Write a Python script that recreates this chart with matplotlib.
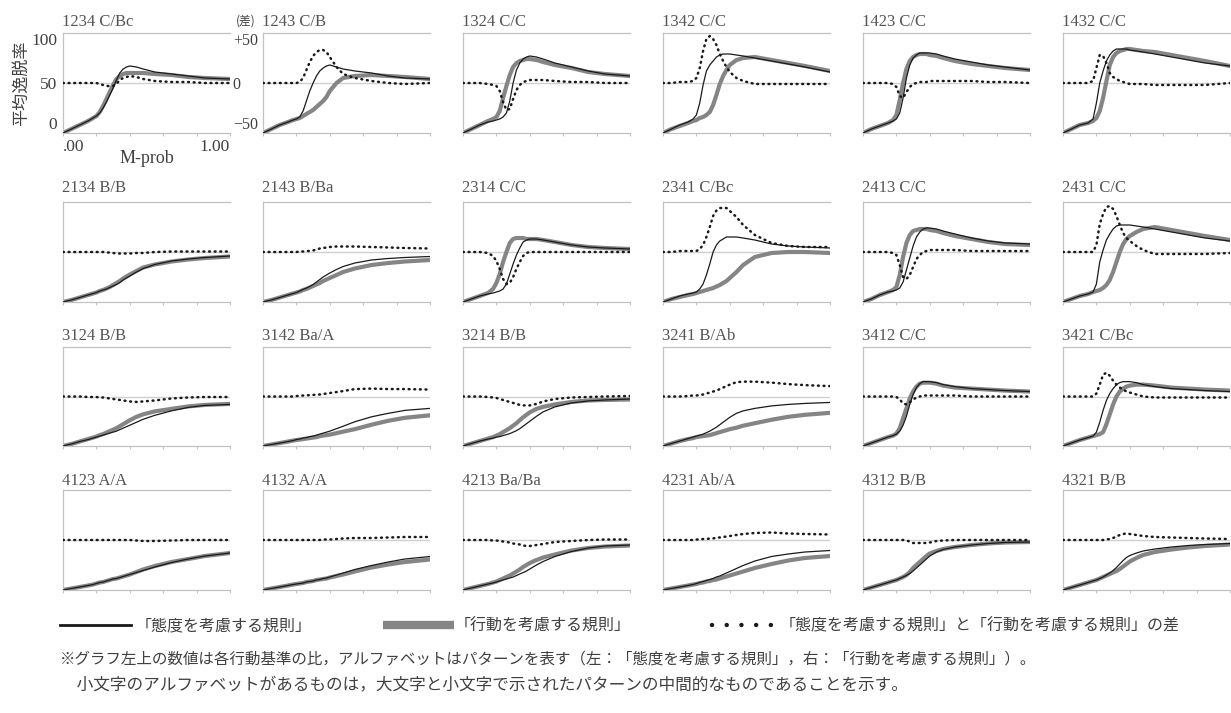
import matplotlib
matplotlib.use("Agg")
import matplotlib.pyplot as plt
from matplotlib.lines import Line2D
import numpy as np

# ---------------- data ----------------
X = [0, .05, .10, .15, .18, .20, .22, .24, .26, .28, .30, .32, .34, .36, .38, .40,
     .44, .48, .55, .65, .75, .85, 1.0]

titles = ["1234 C/Bc", "1243 C/B", "1324 C/C", "1342 C/C", "1423 C/C", "1432 C/C",
          "2134 B/B", "2143 B/Ba", "2314 C/C", "2341 C/Bc", "2413 C/C", "2431 C/C",
          "3124 B/B", "3142 Ba/A", "3214 B/B", "3241 B/Ab", "3412 C/C", "3421 C/Bc",
          "4123 A/A", "4132 A/A", "4213 Ba/Ba", "4231 Ab/A", "4312 B/B", "4321 B/B"]

# 「態度を考慮する規則」 (attitude rule, thin black)
A1234 = [0, 4, 8, 12, 15, 17, 20, 25, 31, 38, 45, 53, 60, 64, 66, 67, 66, 64, 61, 59, 57, 55, 54]
A1243 = [0, 4, 8, 11, 13, 14, 16, 22, 32, 42, 50, 57, 62, 65, 67, 68, 66, 64, 62, 60, 57, 55, 54]
A1324 = [0, 4, 8, 11, 12, 13, 14, 16, 20, 32, 50, 63, 70, 74, 76, 77, 76, 74, 70, 66, 62, 59, 57]
A1342 = [0, 4, 8, 11, 14, 18, 30, 48, 62, 68, 72, 76, 78, 79, 79, 79, 78, 77, 75, 72, 69, 66, 61]
A1423 = [0, 4, 7, 10, 12, 14, 20, 35, 55, 68, 75, 78, 80, 80, 80, 80, 79, 77, 74, 71, 68, 66, 63]
A1432 = [0, 4, 8, 10, 14, 30, 50, 62, 72, 78, 82, 84, 84, 84, 84, 83, 82, 81, 79, 76, 73, 70, 67]
A2134 = [0, 2, 4.5, 7, 8.5, 9.5, 11, 12, 13, 14.5, 16, 17.5, 19.5, 22, 24, 26, 30, 33.5, 37.5, 41, 43, 44.5, 46]
A2143 = [0, 2, 4.5, 7, 8.5, 9.5, 11, 12.5, 14, 15.5, 17.5, 20, 22.5, 25, 27, 29, 32.5, 35.5, 39, 42, 43.5, 44.5, 45.5]
A2314 = [0, 3, 6, 8, 9, 10, 11, 13, 18, 28, 38, 47, 54, 60, 62, 63, 63, 62, 60, 57, 55, 54, 53]
A2341 = [0, 3, 6, 8, 9, 10, 13, 18, 27, 38, 50, 57, 61, 63, 65, 65, 65, 64, 62, 58, 56, 55, 54]
A2413 = [0, 3, 7, 10, 11, 12, 14, 20, 32, 44, 56, 65, 70, 73, 74, 74, 73, 71, 68, 64, 61, 59, 58]
A2431 = [0, 3, 6, 8, 10, 18, 40, 52, 62, 68, 73, 76, 77, 77, 77, 77, 76, 75, 73, 70, 67, 64, 61]
A3124 = [0, 2, 4.5, 6.5, 8, 9, 10, 11, 12, 13, 14, 15, 16.5, 18, 19.5, 21, 24, 27, 31, 35.5, 39, 41, 42]
A3142 = [0, 1.5, 3, 4.5, 5.5, 6.5, 7, 8, 8.5, 9.5, 10, 11, 12, 13, 14, 15, 17.5, 20, 24.5, 29.5, 33, 36, 38]
A3214 = [0, 2.5, 5, 7, 8, 9, 9.5, 10.5, 11.5, 12.5, 14, 15.5, 17.5, 20, 22.5, 25, 30, 34.5, 39.5, 43.5, 45.5, 46.5, 47.5]
A3241 = [0, 2.5, 5, 7.5, 9, 10, 11, 12, 13.5, 15, 17, 19, 21.5, 24, 26.5, 29, 33, 35.5, 38, 40.5, 42, 43, 44]
A3412 = [0, 3, 6, 9, 10.5, 12, 15, 21, 30, 42, 52, 59, 63, 65, 65, 65, 64, 62, 60, 58, 57, 56, 55]
A3421 = [0, 3, 6, 8.5, 10, 14, 24, 36, 46, 53, 58, 62, 64, 65, 65, 65, 64, 62, 60, 58, 57, 56, 55]
A4123 = [0, 1.5, 3, 4.5, 5.5, 6.5, 7.5, 8, 9, 10, 11, 11.5, 12.5, 13.5, 14.5, 15.5, 17.5, 19.5, 23, 27.5, 31, 34, 37]
A4132 = [0, 1.5, 3, 4.5, 5.5, 6, 6.5, 7, 8, 8.5, 9, 10, 10.5, 11.5, 12, 13, 15, 17, 20.5, 24.5, 28, 31, 33.5]
A4213 = [0, 2, 4, 6, 7, 8, 9, 10, 11, 12, 13, 14.5, 16, 17.5, 19, 21, 25, 28.5, 33.5, 38.5, 42, 44, 45]
A4231 = [0, 1.5, 3, 4.5, 5.5, 6.5, 7.5, 8.5, 9.5, 10.5, 11.5, 13, 14, 15.5, 17, 18.5, 21.5, 24.5, 29, 33.5, 36, 38, 39.5]
A4312 = [0, 2.5, 5, 7.5, 9, 10, 11.5, 13, 14.5, 16.5, 19, 22, 25, 28, 31, 34, 38, 40.5, 43, 45, 46.5, 47.5, 48]
A4321 = [0, 2.5, 5, 7.5, 9, 10, 11.5, 13, 15, 17, 19.5, 22.5, 26, 29.5, 32.5, 34.5, 37, 39, 41, 43, 44.5, 45.5, 46.5]

# 「行動を考慮する規則」 (behaviour rule, thick gray)
B1234 = [0, 4, 8, 12, 15, 17, 21, 27, 34, 41, 48, 54, 57, 59, 60, 60, 60, 60, 59, 58, 56, 55, 54]
B1243 = [0, 4, 8, 11, 13, 14, 15, 17, 19, 21, 23, 26, 29, 32, 36, 42, 50, 55, 57, 58, 57, 56, 54]
B1324 = [0, 4, 8, 12, 14, 16, 22, 35, 47, 58, 66, 70, 72, 73, 74, 74, 73, 71, 68, 65, 61, 59, 57]
B1342 = [0, 4, 7, 10, 12, 13, 15, 16, 18, 21, 28, 38, 49, 57, 63, 68, 73, 75, 76, 73, 70, 67, 62]
B1423 = [0, 4, 7, 10, 13, 18, 33, 50, 64, 72, 76, 78, 79, 79, 79, 78, 77, 75, 72, 69, 67, 65, 63]
B1432 = [0, 4, 8, 10, 12, 15, 22, 35, 52, 68, 76, 80, 82, 83, 84, 84, 83, 82, 81, 78, 75, 72, 67]
B2134 = [0, 2, 4.5, 7, 8.5, 9.5, 11, 12, 13.5, 15, 17, 19, 21, 23.5, 25.5, 27.5, 31, 34.5, 37.5, 40.5, 42.5, 44, 45.5]
B2143 = [0, 2, 4.5, 7, 8.5, 9.5, 10.5, 12, 13, 14.5, 16, 17.5, 19, 21, 22.5, 24, 27, 30, 33.5, 37, 39, 40.5, 42]
B2314 = [0, 3, 6, 9, 13, 19, 28, 40, 50, 59, 63, 64, 64, 64, 63, 63, 63, 62, 60, 57, 55, 54, 53]
B2341 = [0, 3, 5, 7, 8, 9, 10, 11, 12, 13, 14, 15.5, 17, 19, 21, 24, 30, 37, 45, 49, 50, 50, 49]
B2413 = [0, 3, 7, 10, 12, 15, 27, 45, 59, 67, 71, 72, 73, 73, 73, 72, 71, 69, 66, 63, 60, 58, 57]
B2431 = [0, 3, 6, 8, 10, 11, 12, 14, 17, 22, 30, 40, 50, 58, 63, 66, 70, 73, 75, 72, 69, 66, 62]
B3124 = [0, 2, 4.5, 7, 8.5, 9.5, 11, 12, 13.5, 15, 16.5, 18, 20, 22, 24, 26, 29.5, 32, 35, 37.5, 40, 41.5, 42.5]
B3142 = [0, 1.5, 3, 4.5, 5.5, 6, 6.5, 7, 7.5, 8, 8.5, 9, 10, 10.5, 11, 11.5, 13, 14.5, 17, 21.5, 25.5, 28.5, 31]
B3214 = [0, 2.5, 5, 7.5, 9, 10.5, 12, 14, 16, 18, 20.5, 23, 26, 29, 31.5, 34, 37.5, 39.5, 42, 44.5, 46, 46.5, 47]
B3241 = [0, 2.5, 5, 7, 8, 9, 9.5, 10, 10.5, 11, 12, 13, 14, 15, 16, 17, 18.5, 20.5, 23, 26.5, 29.5, 31.5, 33.5]
B3412 = [0, 3, 6, 9, 10.5, 12.5, 18, 28, 38, 48, 55, 60, 63, 64, 64, 64, 63, 61, 59, 58, 57, 56, 55]
B3421 = [0, 3, 6, 8.5, 10, 11, 12, 14, 22, 32, 42, 50, 55, 58, 60, 61, 62, 62, 61, 59, 58, 57, 56]
B4123 = [0, 1.5, 3, 4.5, 5.5, 6.5, 7.5, 8, 9, 10, 11, 11.5, 12.5, 13.5, 14.5, 15.5, 18, 20.5, 24, 28, 31, 34, 37]
B4132 = [0, 1.5, 3, 4.5, 5.5, 6, 6.5, 7, 8, 8.5, 9, 10, 10.5, 11, 11.5, 12.5, 14, 15.5, 18.5, 22.5, 25.5, 28, 30.5]
B4213 = [0, 2, 4, 6, 7.5, 8.5, 10, 11.5, 13, 14.5, 16.5, 18.5, 20.5, 23, 25, 27, 30, 32.5, 35.5, 39.5, 42, 43.5, 44.5]
B4231 = [0, 1.5, 3, 4.5, 5.5, 6, 7, 7.5, 8.5, 9, 10, 10.5, 11.5, 12.5, 13.5, 14.5, 16.5, 18.5, 22, 26, 29.5, 32, 34]
B4312 = [0, 2.5, 5, 7.5, 9, 10, 11.5, 13, 15, 18, 22, 25, 28, 31, 34, 36.5, 39, 41, 43, 45, 46.5, 47.5, 48]
B4321 = [0, 2.5, 5, 7.5, 9, 10, 11.5, 13, 14.5, 16, 17.5, 19, 21, 23.5, 26, 28.5, 32, 35, 38, 40.5, 42.5, 44, 45.5]

attitude = [A1234, A1243, A1324, A1342, A1423, A1432,
            A2134, A2143, A2314, A2341, A2413, A2431,
            A3124, A3142, A3214, A3241, A3412, A3421,
            A4123, A4132, A4213, A4231, A4312, A4321]
behaviour = [B1234, B1243, B1324, B1342, B1423, B1432,
             B2134, B2143, B2314, B2341, B2413, B2431,
             B3124, B3142, B3214, B3241, B3412, B3421,
             B4123, B4132, B4213, B4231, B4312, B4321]

legend_labels = ["「態度を考慮する規則」", "「行動を考慮する規則」",
                 "「態度を考慮する規則」と「行動を考慮する規則」の差"]
note1 = "※グラフ左上の数値は各行動基準の比，アルファベットはパターンを表す（左：「態度を考慮する規則」，右：「行動を考慮する規則」）。"
note2 = "\u3000小文字のアルファベットがあるものは，大文字と小文字で示されたパターンの中間的なものであることを示す。"

# ---------------- style ----------------
W, H = 1231, 713
SERIF = ["Liberation Serif", "DejaVu Serif"]
JP = ["Noto Sans CJK JP", "DejaVu Sans"]
TXT = "#404040"
SPINE = "#c2c2c2"
BLACK = "#1a1a1a"
GRAY = "#858585"

fig = plt.figure(figsize=(W / 100, H / 100), dpi=100)
fig.patch.set_facecolor("white")

col_left = [63, 263, 463, 663, 863, 1063]
row_tb = [(33, 133), (202, 302), (347, 446), (490, 590)]
title_base = [26, 192, 340, 485]
PW = 167


def fx(px):
    return px / W


def fy(py):
    return 1 - py / H


DOTS = (0, (0.35, 1.9))

x = np.array(X)
for i, title in enumerate(titles):
    r, c = divmod(i, 6)
    top, bot = row_tb[r]
    ax = fig.add_axes([fx(col_left[c]), fy(bot), PW / W, (bot - top) / H])
    a = np.array(attitude[i], dtype=float)
    b = np.array(behaviour[i], dtype=float)
    d = a - b

    ax.set_xlim(0, 1)
    ax.set_ylim(0, 100)
    ax.axhline(50, color="#d0d0d0", lw=1.0, zorder=1)
    ax.plot(x, b, color=GRAY, lw=3.0, solid_capstyle="round", zorder=2)
    ax.plot(x, a, color=BLACK, lw=0.9, zorder=3)

    for s in ["left", "bottom", "top"]:
        ax.spines[s].set_color(SPINE)
        ax.spines[s].set_linewidth(0.9)
    ax.spines["right"].set_visible(False)
    ax.set_xticks([0, .2, .4, .6, .8, 1.0])
    ax.tick_params(axis="x", direction="out", length=2.5, width=0.8, colors=SPINE,
                   labelbottom=False)
    ax.tick_params(axis="y", length=0, labelleft=False)

    ax2 = ax.twinx()
    ax2.set_ylim(-50, 50)
    ax2.plot(x, d, color=BLACK, lw=1.8, linestyle=DOTS,
             dash_capstyle="round", zorder=4)
    for s in ax2.spines.values():
        s.set_visible(False)
    ax2.tick_params(axis="y", length=0, labelright=False)

    fig.text(fx(col_left[c] - 1), fy(title_base[r]), title, family=SERIF, fontsize=12,
             color="#555555", ha="left", va="baseline")

    if i == 0:
        ax.set_yticks([0, 50, 100])
        ax.tick_params(axis="y", labelleft=True, pad=4, labelsize=12.5, labelcolor=TXT)
        for lab in ax.get_yticklabels():
            lab.set_family(SERIF)
        ylabs = ax.get_yticklabels()
        ylabs[0].set_va("bottom")
        ylabs[2].set_va("top")
        ax.set_xticklabels([".00", "", "", "", "", "1.00"])
        ax.tick_params(axis="x", labelbottom=True, labelsize=12.5, labelcolor=TXT, pad=2)
        xl = ax.get_xticklabels()
        for lab in xl:
            lab.set_family(SERIF)
        xl[0].set_ha("left")
        xl[-1].set_ha("right")
        ax.set_xlabel("M-prob", family=SERIF, fontsize=13, color=TXT, labelpad=-4)
        ax.set_ylabel("平均逸脱率", family=JP, fontsize=12.3, color=TXT, labelpad=1)
        ax2.set_yticks([-50, 0, 50])
        ax2.set_yticklabels(["\u221250", "0", "+50"])
        ax2.tick_params(axis="y", labelright=True, pad=2, labelsize=11.5, labelcolor=TXT)
        for lab in ax2.get_yticklabels():
            lab.set_family(SERIF)
        r2 = ax2.get_yticklabels()
        r2[0].set_va("bottom")
        r2[2].set_va("top")
        fig.text(fx(246), fy(21), "(差)", family=JP, fontsize=8.5, color=TXT,
                 ha="center", va="center")

# ---------------- legend ----------------
h1 = Line2D([], [], color=BLACK, lw=2.0)
h2 = Line2D([], [], color=GRAY, lw=6.0, solid_capstyle="butt")
h3 = Line2D([], [], color=BLACK, lw=3.2, linestyle=(0, (0.01, 3.3)),
            dash_capstyle="round")
LEG_FS = 11.5
em = LEG_FS * 100 / 72.0
leg_specs = [(h1, legend_labels[0], 60, 131, 0.3),
             (h2, legend_labels[1], 383, 454, 0.05),
             (h3, legend_labels[2], 712, 775, 0.3)]
LEG_Y = 626
for h, lab, x0, x1, tp in leg_specs:
    lg = fig.legend([h], [lab], loc="center left", bbox_to_anchor=(fx(x0), fy(LEG_Y)),
                    frameon=False, borderpad=0, borderaxespad=0,
                    handlelength=(x1 - x0) / em, handleheight=0.7,
                    handletextpad=tp, prop={"family": JP, "size": LEG_FS})
    for t in lg.get_texts():
        t.set_color(TXT)

fig.text(fx(60), fy(659), note1, family=JP, fontsize=11.2, color=TXT, ha="left", va="center")
fig.text(fx(60), fy(686), note2, family=JP, fontsize=12.0, color=TXT, ha="left", va="center")

fig.savefig("out.png", dpi=100, facecolor="white")
